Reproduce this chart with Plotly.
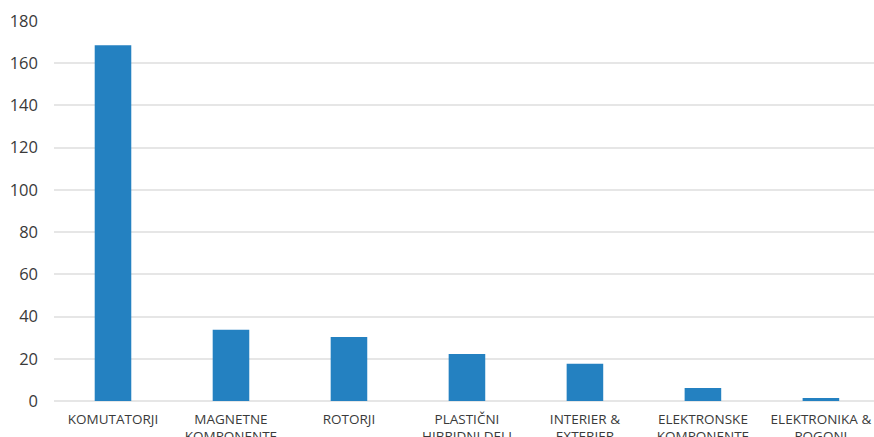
import plotly.graph_objects as go

categories = ["KOMUTATORJI", "MAGNETNE<br>KOMPONENTE", "ROTORJI", "PLASTIČNI<br>HIBRIDNI DELI",
              "INTERIER &<br>EXTERIER", "ELEKTRONSKE<br>KOMPONENTE", "ELEKTRONIKA &<br>POGONI"]
values = [168.5, 33.8, 30.3, 22.3, 17.6, 6.2, 1.4]
y_ticks = [0, 20, 40, 60, 80, 100, 120, 140, 160, 180]

fig = go.Figure()
fig.add_trace(go.Bar(
    x=list(range(len(categories))), y=values,
    width=0.31,
    marker=dict(color="#2481c1", line=dict(width=0)),
    hoverinfo="skip",
))

fig.update_layout(
    width=874, height=437,
    margin=dict(l=54, r=0, t=21, b=36, autoexpand=False),
    paper_bgcolor="white", plot_bgcolor="white",
    showlegend=False,
    font=dict(family="Open Sans", color="#3a3a3a"),
    xaxis=dict(
        range=[-0.5, 6.45], automargin=False,
        tickmode="array", tickvals=list(range(len(categories))), ticktext=categories,
        tickfont=dict(size=13.5, color="#3a3a3a"),
        showgrid=False, zeroline=False, showline=False, ticks="",
        ticklabelstandoff=8,
    ),
    yaxis=dict(
        range=[0, 180], automargin=False,
        tickmode="array", tickvals=y_ticks,
        tickfont=dict(size=16.5, color="#3a3a3a"),
        showgrid=True, gridcolor="#e6e6e6", gridwidth=1.5,
        zeroline=True, zerolinecolor="#e6e6e6", zerolinewidth=1.5,
        showline=False, ticks="",
        ticklabelstandoff=15,
    ),
)

fig.write_html(
    "out.html",
    config={"displayModeBar": False},
    post_script="document.body.style.margin='0';document.body.style.overflow='hidden';",
)
